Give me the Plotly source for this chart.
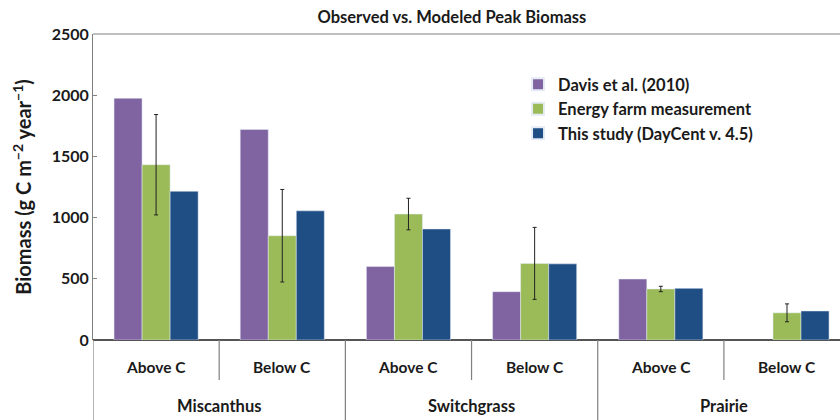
import plotly.graph_objects as go

groups = ["Miscanthus", "Miscanthus", "Switchgrass", "Switchgrass", "Prairie", "Prairie"]
subs = ["Above C", "Below C", "Above C", "Below C", "Above C", "Below C"]

davis = [1975, 1720, 600, 395, 498, None]
energy = [1432, 852, 1029, 626, 417, 222]
energy_err = [410, 378, 129, 294, 22, 73]
daycent = [1215, 1055, 907, 622, 422, 237]

series_names = ["Davis et al. (2010)", "Energy farm measurement", "This study (DayCent v. 4.5)"]
colors = ["#8064A2", "#9BBB59", "#1F4E85"]

FONT = "Lato"
TXT = "#1a1a1a"
AX = "#808080"

cats = [f"{g} {s}" for g, s in zip(groups, subs)]

fig = go.Figure()
fig.add_trace(go.Bar(x=cats, y=davis, name=series_names[0], marker_color=colors[0], legendgroup="a"))
fig.add_trace(go.Bar(x=cats, y=energy, name=series_names[1], marker_color=colors[1], legendgroup="b",
                     error_y=dict(type="data", array=energy_err, color="#222222", thickness=1, width=2)))
fig.add_trace(go.Bar(x=cats, y=daycent, name=series_names[2], marker_color=colors[2], legendgroup="c"))

# plot area: y pixels 34 (top) .. 340 (bottom); height 306
def py2paper(py):
    return (340 - py) / 306.0

fig.update_layout(
    width=840, height=420,
    margin=dict(l=93, r=0, t=34, b=80),
    paper_bgcolor="white", plot_bgcolor="white",
    barmode="group", bargap=1/3, bargroupgap=0,
    font=dict(family=FONT, size=14, color=TXT),
    title=dict(text="<b>Observed vs. Modeled Peak Biomass</b>", x=0.538, xanchor="center",
               y=0.96, yanchor="middle", font=dict(family=FONT, size=16.5, color=TXT)),
    legend=dict(x=0.569, y=py2paper(67), xanchor="left", yanchor="top", bgcolor="rgba(0,0,0,0)",
                font=dict(family=FONT, size=16.5, color=TXT, weight="bold"),
                tracegroupgap=0, itemsizing="constant"),
    showlegend=True,
)
fig.update_xaxes(
    range=[-0.5, 5.42],
    showline=False, ticks="", showticklabels=False,
    showgrid=False, zeroline=False,
)
fig.update_yaxes(
    range=[0, 2500], dtick=500,
    showline=True, linecolor=AX, linewidth=1, mirror=False,
    ticks="inside", ticklen=4, tickcolor=AX,
    showgrid=False, zeroline=True, zerolinecolor="#555555", zerolinewidth=1.5,
    tickfont=dict(family=FONT, size=16, color=TXT, weight="bold"),
    title=dict(text="<b>Biomass (g C m<sup>\u22122</sup> year<sup>\u22121</sup>)</b>",
               font=dict(family=FONT, size=20, color=TXT), standoff=14),
)
# top border line
fig.add_shape(type="line", xref="paper", yref="paper", x0=0, x1=1, y0=1, y1=1,
              line=dict(color=AX, width=1))

# category labels
for i, s in enumerate(subs):
    fig.add_annotation(x=i, y=py2paper(367), xref="x", yref="paper", text=f"<b>{s}</b>",
                       showarrow=False, yanchor="middle",
                       font=dict(family=FONT, size=15.5, color=TXT))
# group labels and separators
seen = []
for i, g in enumerate(groups):
    if g not in seen:
        seen.append(g)
        idx = [j for j, gg in enumerate(groups) if gg == g]
        mid = (idx[0] + idx[-1]) / 2
        fig.add_annotation(x=mid, y=py2paper(406), xref="x", yref="paper", text=f"<b>{g}</b>",
                           showarrow=False, yanchor="middle",
                           font=dict(family=FONT, size=16.5, color=TXT))
        # group boundaries (long lines)
        fig.add_shape(type="line", xref="x", yref="paper", x0=idx[0] - 0.5, x1=idx[0] - 0.5,
                      y0=py2paper(340), y1=py2paper(421), line=dict(color=AX, width=1.2))
        # sub-category boundaries within group (short lines)
        for j in idx[:-1]:
            fig.add_shape(type="line", xref="x", yref="paper", x0=j + 0.5, x1=j + 0.5,
                          y0=py2paper(340), y1=py2paper(380), line=dict(color=AX, width=1.2))

fig.write_html("out.html")
